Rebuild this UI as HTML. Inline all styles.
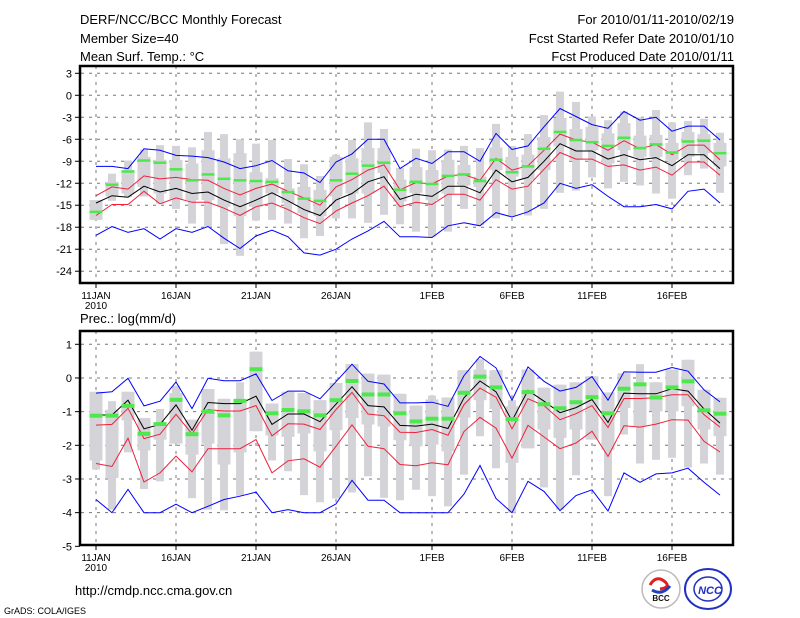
<!DOCTYPE html>
<html><head><meta charset="utf-8"><style>
body{margin:0;background:#fff;}
svg{display:block;font-family:"Liberation Sans",sans-serif;}
</style></head><body>
<svg id="chart" width="800" height="618" viewBox="0 0 800 618" xmlns="http://www.w3.org/2000/svg">
<rect x="0" y="0" width="800" height="618" fill="#fff"/>
<g id="hdr" font-size="13" fill="#000">
<text x="80" y="24">DERF/NCC/BCC Monthly Forecast</text>
<text x="80" y="43">Member Size=40</text>
<text x="80" y="61">Mean Surf. Temp.: °C</text>
<text x="734" y="24" text-anchor="end">For 2010/01/11-2010/02/19</text>
<text x="734" y="43" text-anchor="end">Fcst Started Refer Date 2010/01/10</text>
<text x="734" y="61" text-anchor="end">Fcst Produced Date 2010/01/11</text>
<text x="80" y="323">Prec.: log(mm/d)</text>
<text x="75" y="595">http://cmdp.ncc.cma.gov.cn</text>
<text x="4" y="614" font-size="9">GrADS: COLA/IGES</text>
</g>
<g>
<circle cx="661" cy="589" r="19" fill="#fff" stroke="#bbb" stroke-width="1.5"/>
<path d="M650 585 q6 -10 14 -4 q8 6 -4 8" fill="none" stroke="#e02020" stroke-width="3"/>
<path d="M652 590 q10 6 18 -4" fill="none" stroke="#2040c0" stroke-width="3"/>
<text x="661" y="601" font-size="8" text-anchor="middle" font-weight="bold" fill="#111">BCC</text>
</g>
<g>
<ellipse cx="708" cy="589" rx="23" ry="20" fill="#fff" stroke="#2030c0" stroke-width="2"/>
<ellipse cx="708" cy="589" rx="14" ry="12" fill="none" stroke="#2030c0" stroke-width="1.5"/>
<text x="710" y="594" font-size="11" text-anchor="middle" font-weight="bold" font-style="italic" fill="#2030c0">NCC</text>
</g>
<g id="plots"></g>
</svg>
<script>
// ---- Temperature panel data ----
const dateLabels = ["11JAN","16JAN","21JAN","26JAN","1FEB","6FEB","11FEB","16FEB"];
const dateLabelIndex = [0,5,10,15,21,26,31,36];
const tTicks = [3,0,-3,-6,-9,-12,-15,-18,-21,-24];
const tMaxLine = [-9.7,-9.7,-10.0,-7.3,-7.5,-8.2,-8.3,-8.5,-9.1,-10.0,-9.6,-8.9,-10.3,-10.6,-11.9,-9.1,-8.0,-6.0,-6.0,-10.0,-8.6,-9.3,-7.7,-7.7,-9.0,-5.2,-7.4,-6.9,-4.3,-1.8,-2.9,-4.0,-4.5,-2.2,-3.4,-3.0,-4.9,-4.2,-4.2,-6.1];
const tUpper = [-13.7,-12.5,-12.8,-11.0,-11.4,-11.2,-11.5,-11.6,-12.7,-13.6,-12.7,-12.1,-13.1,-14.0,-15.0,-12.5,-11.5,-10.2,-9.5,-12.9,-11.9,-12.1,-11.0,-10.8,-11.6,-8.6,-10.2,-9.6,-7.5,-5.3,-6.1,-6.4,-7.5,-6.2,-7.3,-6.7,-8.1,-6.8,-6.8,-8.8];
const tMean = [-14.7,-13.7,-13.9,-12.4,-13.2,-12.7,-13.4,-13.2,-14.3,-15.2,-14.3,-13.3,-14.4,-15.6,-16.4,-14.3,-13.4,-11.8,-11.1,-14.2,-13.5,-13.8,-12.4,-12.4,-13.3,-10.2,-11.8,-11.2,-9.0,-6.6,-7.6,-7.6,-8.7,-8.1,-8.8,-8.5,-9.6,-8.1,-8.1,-10.0];
const tLower = [-16.4,-14.9,-14.9,-13.1,-14.8,-14.0,-14.6,-14.6,-15.4,-16.4,-15.2,-14.7,-15.6,-16.7,-17.5,-15.8,-14.7,-13.7,-12.4,-15.2,-14.6,-14.9,-13.5,-13.5,-14.3,-11.5,-12.8,-12.4,-10.1,-7.8,-8.7,-8.7,-9.7,-9.5,-10.2,-9.8,-10.9,-9.1,-9.1,-10.9];
const tMinLine = [-19.1,-17.9,-18.7,-18.2,-19.6,-18.2,-18.7,-17.9,-19.5,-20.9,-19.2,-18.4,-19.3,-21.5,-21.8,-21.0,-19.6,-18.5,-17.2,-19.3,-19.3,-19.4,-17.8,-17.4,-17.8,-16.0,-16.6,-15.9,-14.7,-12.0,-12.7,-12.2,-13.8,-15.2,-15.2,-14.9,-15.5,-13.1,-12.8,-14.7];
const tMedian = [-15.9,-12.2,-10.4,-8.9,-9.2,-10.1,-11.6,-10.8,-11.4,-11.6,-11.7,-11.8,-13.2,-14.1,-14.4,-11.6,-10.7,-9.6,-9.2,-12.9,-11.8,-12.1,-11.0,-10.8,-11.7,-8.8,-10.5,-9.7,-7.3,-5.0,-6.1,-6.4,-6.9,-5.8,-7.2,-6.7,-7.8,-6.3,-6.2,-7.9];
const tWhiskTop = [-14.3,-10.7,-8.9,-7.4,-6.8,-6.9,-7.1,-5.0,-5.3,-6.0,-6.6,-6.1,-8.7,-9.4,-11.0,-8.1,-6.1,-3.7,-4.6,-9.9,-7.3,-7.5,-7.4,-6.9,-7.2,-3.9,-6.9,-5.3,-2.7,0.5,-0.9,-2.9,-3.4,-2.2,-3.0,-2.0,-3.7,-3.5,-3.2,-5.1];
const tWhiskBot = [-17.0,-14.4,-13.9,-13.8,-14.8,-15.5,-17.5,-17.9,-20.3,-21.9,-17.1,-17.0,-17.5,-19.5,-19.2,-16.8,-16.8,-17.4,-16.3,-17.6,-18.6,-19.3,-18.6,-15.5,-17.7,-16.8,-16.5,-16.4,-15.5,-13.3,-13.0,-11.2,-12.7,-11.8,-12.3,-13.4,-14.1,-10.9,-10.0,-13.3];
const tBoxTop = [-14.3,-11.8,-10.2,-8.4,-8.8,-8.8,-9.3,-7.5,-8.6,-7.9,-10.5,-11.3,-12.7,-12.5,-12.9,-8.4,-8.6,-7.2,-7.2,-11.5,-9.8,-10.2,-8.8,-9.5,-11.1,-7.1,-8.4,-8.1,-5.7,-3.1,-4.6,-4.3,-5.2,-3.8,-5.5,-5.4,-6.5,-5.0,-5.3,-6.5];
const tBoxBot = [-17.0,-13.8,-13.4,-12.5,-13.4,-14.3,-14.3,-14.3,-15.2,-16.5,-15.2,-13.4,-14.7,-16.1,-16.5,-13.8,-13.4,-13.4,-10.6,-14.5,-13.3,-14.3,-13.4,-12.3,-12.5,-10.2,-11.1,-11.5,-10.2,-7.0,-8.8,-7.5,-9.3,-7.5,-8.4,-8.4,-8.8,-8.4,-7.9,-9.7];
// ---- Precipitation panel data ----
const pTicks = [1,0,-1,-2,-3,-4,-5];
const pMaxLine = [-0.45,-0.41,-0.01,-0.83,-0.69,-0.12,-0.91,-0.01,-0.08,-0.08,0.12,-0.67,-0.39,-0.39,-0.62,-0.11,0.41,-0.10,-0.18,-0.74,-0.74,-0.72,-0.84,0.07,0.64,0.30,-0.66,0.33,-0.10,-0.39,-0.28,0.04,-0.66,0.18,0.17,0.17,0.31,0.20,-0.35,-0.71];
const pUpper = [-1.40,-1.38,-0.90,-1.80,-1.67,-1.08,-1.66,-0.94,-0.98,-0.98,-0.82,-1.72,-1.36,-1.37,-1.53,-0.94,-0.43,-1.07,-1.12,-1.61,-1.62,-1.53,-1.70,-0.79,-0.30,-0.57,-1.51,-0.62,-0.82,-1.24,-1.06,-0.82,-1.47,-0.61,-0.61,-0.59,-0.50,-0.50,-1.09,-1.46];
const pMean = [-1.10,-1.10,-0.66,-1.51,-1.38,-0.80,-1.55,-0.73,-0.76,-0.76,-0.54,-1.38,-1.07,-1.07,-1.30,-0.78,-0.26,-0.82,-0.86,-1.41,-1.43,-1.37,-1.50,-0.59,-0.09,-0.41,-1.27,-0.37,-0.69,-1.03,-0.88,-0.64,-1.32,-0.45,-0.47,-0.47,-0.32,-0.39,-0.92,-1.34];
const pLower = [-2.54,-2.63,-1.79,-3.09,-2.82,-2.32,-2.79,-2.10,-2.10,-2.10,-1.83,-2.82,-2.46,-2.40,-2.65,-2.03,-1.39,-2.03,-2.10,-2.57,-2.61,-2.52,-2.58,-1.59,-1.17,-1.49,-2.38,-1.41,-1.75,-2.10,-1.93,-1.58,-2.33,-1.42,-1.46,-1.37,-1.24,-1.25,-1.88,-2.20];
const pMinLine = [-3.61,-4.0,-3.31,-4.0,-4.0,-3.75,-4.0,-3.81,-3.61,-3.51,-3.39,-4.0,-3.91,-4.0,-4.0,-3.74,-3.04,-3.63,-3.63,-4.0,-4.0,-4.0,-4.0,-3.45,-2.60,-3.58,-4.0,-3.07,-3.37,-3.94,-3.49,-3.32,-3.95,-2.82,-3.10,-2.85,-2.82,-2.68,-3.10,-3.48];
const pMedian = [-1.12,-1.12,-0.83,-1.66,-1.37,-0.65,-1.67,-1.00,-1.11,-0.68,0.26,-1.05,-0.95,-0.99,-1.11,-0.66,-0.09,-0.49,-0.49,-1.05,-1.29,-1.21,-1.21,-0.44,0.04,-0.28,-1.22,-0.42,-0.78,-0.90,-0.72,-0.57,-1.05,-0.32,-0.19,-0.58,-0.28,-0.10,-0.96,-1.06];
const pWhiskTop = [-0.41,-0.69,-0.41,-1.19,-0.92,-0.23,-1.24,-0.33,-0.62,-0.13,0.78,-0.76,-0.41,-0.45,-0.66,-0.15,0.41,0.13,0.10,-0.47,-0.82,-0.52,-0.58,0.23,0.56,0.23,-0.66,0.25,-0.29,-0.20,-0.13,0.05,-0.43,0.14,0.41,-0.13,0.25,0.54,-0.35,-0.59];
const pWhiskBot = [-2.72,-3.91,-2.21,-3.30,-3.07,-1.95,-3.57,-3.91,-3.93,-3.50,-1.58,-2.45,-2.77,-3.48,-3.69,-3.58,-3.40,-2.92,-3.56,-3.63,-3.32,-3.51,-3.81,-2.87,-1.73,-2.68,-4.0,-2.09,-3.25,-3.91,-2.89,-1.83,-3.51,-1.68,-2.54,-2.43,-2.37,-2.66,-2.54,-2.87];
const pBoxTop = [-0.41,-0.94,-0.41,-1.19,-1.44,-0.45,-1.24,-0.33,-0.62,-0.64,0.78,-0.76,-0.41,-0.45,-0.66,-0.15,0.41,0.13,0.10,-0.47,-0.82,-0.64,-0.58,0.23,0.25,0.23,-0.84,0.25,-0.29,-0.20,-0.13,0.05,-0.43,0.14,-0.25,-0.13,0.25,0.54,-0.35,-0.59];
const pBoxBot = [-2.45,-2.97,-1.26,-2.15,-1.83,-1.95,-2.28,-1.95,-2.57,-2.21,-1.58,-1.71,-1.75,-1.65,-2.18,-1.55,-1.19,-1.38,-1.44,-1.85,-2.03,-1.98,-2.18,-1.18,-0.66,-0.92,-2.52,-2.09,-1.53,-1.78,-1.53,-1.83,-2.13,-0.89,-1.44,-0.99,-0.99,-0.84,-1.53,-1.73];

const NS="http://www.w3.org/2000/svg";
const root=document.getElementById('plots');
function mk(tag,attrs,parent){const e=document.createElementNS(NS,tag);for(const k in attrs)e.setAttribute(k,attrs[k]);(parent||root).appendChild(e);return e;}
function xAt(i){return 96+16*i;}

function panel(cfg){
  const g=mk('g',{});
  
  
  const y=v=>cfg.y0+(cfg.vTop-v)*cfg.k;
  // grid
  cfg.ticks.forEach(t=>{
    const yy=y(t);
    if(yy>cfg.top+2&&yy<cfg.bot-2){const l=mk('line',{x1:81,x2:733,y1:yy,y2:yy,stroke:'#777','stroke-width':1,'stroke-dasharray':'3,5'},g);
    
    }
    const tk=mk('line',{x1:75,x2:80,y1:yy,y2:yy,stroke:'#000'},g);
    
    
    const tx=mk('text',{x:72,y:yy+4,'font-size':11,'text-anchor':'end'},g);
    tx.textContent=t;
    
    
  });
  dateLabelIndex.forEach((di,j)=>{
    const xx=xAt(di);
    const l=mk('line',{x1:xx,x2:xx,y1:cfg.top,y2:cfg.bot,stroke:'#777','stroke-width':1,'stroke-dasharray':'3,5'},g);
    
    
    const tk=mk('line',{x1:xx,x2:xx,y1:cfg.bot,y2:cfg.bot+5,stroke:'#000'},g);
    
    
    const tx=mk('text',{x:xx,y:cfg.bot+16,'font-size':10,'text-anchor':'middle'},g);
    tx.textContent=dateLabels[j];
    
    
  });
  const yr=mk('text',{x:96,y:cfg.bot+26,'font-size':10,'text-anchor':'middle'},g);
  yr.textContent='2010';
  
  
  // bars
  for(let i=0;i<40;i++){
    const xx=xAt(i);
    const w=mk('rect',{x:xx-4,y:y(cfg.wt[i]),width:8,height:Math.max(1,y(cfg.wb[i])-y(cfg.wt[i])),fill:'#d3d3d8'},g);
    
    
    const b=mk('rect',{x:xx-6.5,y:y(cfg.bt[i]),width:13,height:Math.max(1,y(cfg.bb[i])-y(cfg.bt[i])),fill:'#d3d3d8'},g);
    
    
  }
  const lines=[[cfg.max,'#0000ff','max-line'],[cfg.up,'#f0203c','upper-line'],[cfg.low,'#f0203c','lower-line'],[cfg.min,'#0000ff','min-line'],[cfg.mean,'#000','mean-line']];
  lines.forEach(([arr,c,n])=>{
    const p=mk('polyline',{points:arr.map((v,i)=>xAt(i)+','+y(v).toFixed(1)).join(' '),fill:'none',stroke:c,'stroke-width':1},g);
    
    
  });
  for(let i=0;i<40;i++){
    const m=mk('rect',{x:xAt(i)-6.5,y:y(cfg.med[i])-cfg.mh/2,width:13,height:cfg.mh,fill:'#4ee84e'},g);
    
    
  }
  const fr=mk('rect',{x:80,y:cfg.top,width:653,height:cfg.bot-cfg.top,fill:'none',stroke:'#000','stroke-width':2.5},g);
  
  
}
panel({name:'temperature-panel',top:66,bot:283,y0:73.3,vTop:3,k:7.33,ticks:tTicks,max:tMaxLine,up:tUpper,mean:tMean,low:tLower,min:tMinLine,med:tMedian,wt:tWhiskTop,wb:tWhiskBot,bt:tBoxTop,bb:tBoxBot,mh:2.5});
panel({name:'precipitation-panel',top:331,bot:545,y0:344.3,vTop:1,k:33.67,ticks:pTicks,max:pMaxLine,up:pUpper,mean:pMean,low:pLower,min:pMinLine,med:pMedian,wt:pWhiskTop,wb:pWhiskBot,bt:pBoxTop,bb:pBoxBot,mh:4});
</script>
</body></html>
